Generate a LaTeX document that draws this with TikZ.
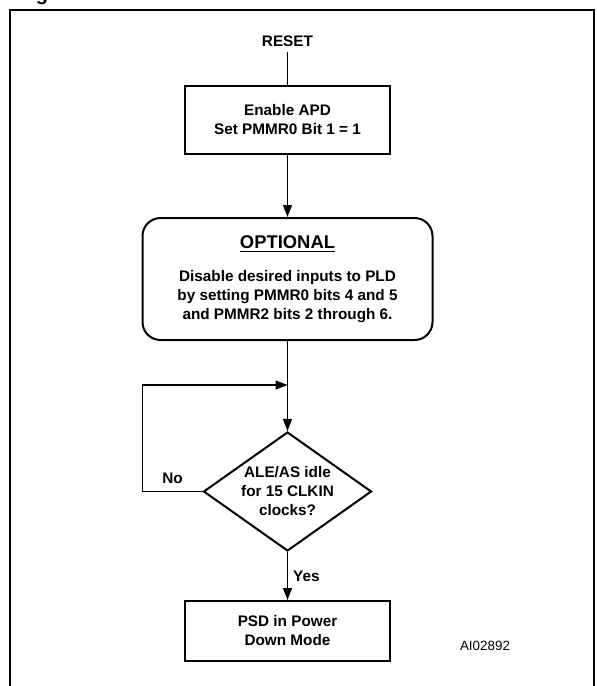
\documentclass[tikz,border=0pt]{standalone}
\usepackage{fontspec}
\setmainfont{Liberation Sans}
\usetikzlibrary{arrows.meta,positioning,shapes.geometric}
\newcommand\textofont{\bfseries\fontsize{7.65}{9.5}\selectfont}
\tikzset{
  bloque/.style={
    draw,
    line width=1pt,
    align=center,
    minimum width=102.5pt,
    inner sep=0pt,
    font=\textofont
  },
  opcional/.style={
    draw,
    line width=1pt,
    rounded corners=9pt,
    align=center,
    minimum width=145pt,
    minimum height=61pt,
    inner sep=0pt,
    font=\textofont
  },
  decision/.style={
    draw,
    diamond,
    line width=1pt,
    shape aspect=1.41,
    align=center,
    minimum width=84pt,
    minimum height=59.5pt,
    inner sep=0pt,
    font=\textofont
  },
  etiqueta/.style={
    inner sep=2.5pt,
    font=\textofont
  },
  arrow/.style={
    -{Triangle[length=6pt,width=4.5pt]},
    line width=0.65pt
  },
  linea/.style={
    line width=0.65pt
  }
}
\begin{document}
\begin{tikzpicture}[node distance=31pt]
\useasboundingbox (0,0) rectangle (298.5pt,-343pt);
\draw[line width=1pt] (5pt,-5.15pt) rectangle (296.9pt,-360pt);
\node[anchor=base west, inner sep=0pt, font=\bfseries\fontsize{10}{12}\selectfont] (fig) at (17.7pt,0pt) {g};
\node[etiqueta] (reset) at (143.75pt,-20.5pt) {RESET};
\node[bloque, minimum height=34pt] (apd) at (143.75pt,-60pt) {Enable APD\\Set PMMR0 Bit 1 = 1};
\node[opcional, below=31pt of apd] (opt) {{\fontsize{9.2}{11}\selectfont\underline{OPTIONAL}}\\[7pt]
  Disable desired inputs to PLD\\by setting PMMR0 bits 4 and 5\\and PMMR2 bits 2 through 6.};
\node[decision, below=45pt of opt] (dec) {ALE/AS idle\\for 15 CLKIN\\clocks?};
\node[bloque, minimum height=30pt, below=24pt of dec] (psd) {PSD in Power\\Down Mode};
\node[inner sep=0pt, font=\fontsize{6.7}{8}\selectfont] (ai) at (242.5pt,-323pt) {AI02892};
\coordinate (join) at ([yshift=-22pt]opt.south);
% flujo principal
\draw[linea] (reset) -- (apd);
\draw[arrow] (apd) -- (opt);
\draw[arrow] (opt) -- (dec);
\draw[arrow] (dec.west) -- node[etiqueta, above, inner sep=3.5pt] {No} ++(-30pt,0) |- (join);
\draw[arrow] (dec) -- node[etiqueta, right] {Yes} (psd);
\end{tikzpicture}
\end{document}
